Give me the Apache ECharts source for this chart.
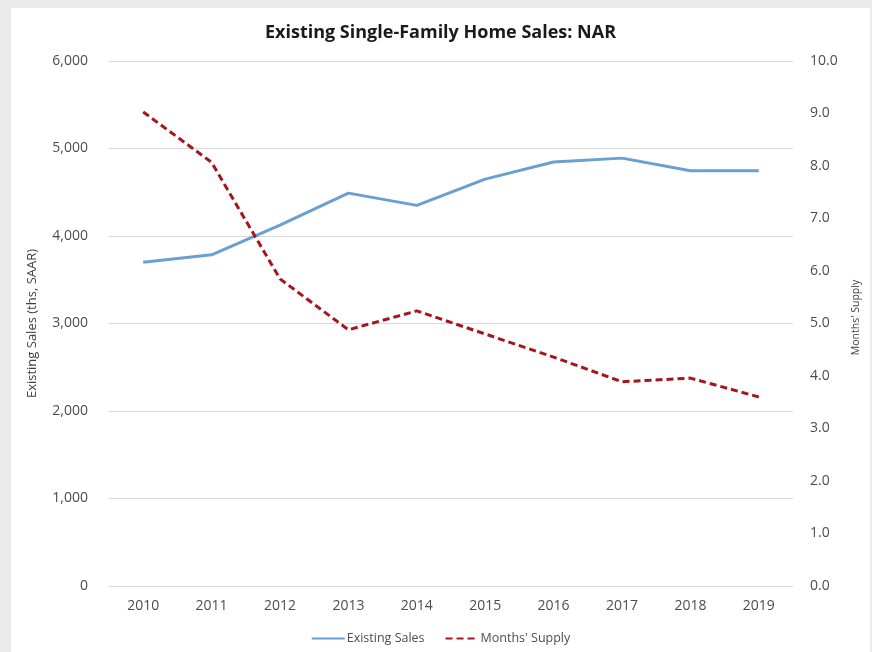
<!DOCTYPE html>
<html>
<head>
<meta charset="utf-8">
<script src="https://cdn.jsdelivr.net/npm/echarts@6/dist/echarts.min.js"></script>
<style>
    html, body { margin: 0; padding: 0; }
    body { width: 872px; height: 652px; background: #ebebeb; position: relative; overflow: hidden; }
    #chart { position: absolute; left: 11px; top: 8px; width: 859px; height: 644px; background: #fff; }
</style>
</head>
<body>
<div id="chart"></div>
<script>
// data
const years = ['2010', '2011', '2012', '2013', '2014', '2015', '2016', '2017', '2018', '2019'];
const existingSales = [3700, 3785, 4125, 4490, 4350, 4650, 4845, 4890, 4745, 4745];
const monthsSupply = [9.03, 8.07, 5.85, 4.88, 5.24, 4.8, 4.36, 3.89, 3.96, 3.6];

const labelColor = '#4d4d4d';
const fontFamily = '"Open Sans", "Liberation Sans", sans-serif';

const chart = echarts.init(document.getElementById('chart'));
chart.setOption({
    animation: false,
    title: {
        text: 'Existing Single-Family Home Sales: NAR',
        left: 'center',
        top: 11,
        textStyle: {
            fontFamily: fontFamily,
            fontSize: 18,
            fontWeight: 'bold',
            color: '#1a1a1a'
        }
    },
    grid: {
        left: 98,
        right: 77,
        top: 53,
        bottom: 66,
        outerBoundsMode: 'none'
    },
    legend: {
        bottom: 2,
        left: 'center',
        itemWidth: 33,
        itemHeight: 3,
        itemGap: 20,
        itemStyle: { opacity: 0 },
        textStyle: {
            fontFamily: fontFamily,
            fontSize: 12.5,
            color: labelColor,
            padding: [0, 0, 0, -3]
        },
        data: ['Existing Sales', "Months' Supply"]
    },
    xAxis: {
        type: 'category',
        data: years,
        boundaryGap: true,
        axisLine: { show: false },
        axisTick: { show: false },
        axisLabel: {
            margin: 13,
            color: labelColor,
            fontFamily: fontFamily,
            fontSize: 14
        }
    },
    yAxis: [
        {
            type: 'value',
            min: 0,
            max: 6000,
            interval: 1000,
            name: 'Existing Sales (ths, SAAR)',
            nameLocation: 'middle',
            nameGap: 70,
            nameTextStyle: {
                fontFamily: fontFamily,
                fontSize: 13,
                color: '#404040'
            },
            axisLine: { show: false },
            axisTick: { show: false },
            axisLabel: {
                margin: 21,
                color: labelColor,
                fontFamily: fontFamily,
                fontSize: 14,
                formatter: (v) => v.toLocaleString('en-US')
            },
            splitLine: {
                lineStyle: { color: '#d9d9d9', width: 1 }
            }
        },
        {
            type: 'value',
            min: 0,
            max: 10,
            interval: 1,
            position: 'right',
            name: "Months' Supply",
            nameLocation: 'middle',
            nameGap: 58,
            nameTextStyle: {
                fontFamily: fontFamily,
                fontSize: 10.5,
                color: '#404040',
                padding: [0, 0, 0, 12]
            },
            axisLine: { show: false },
            axisTick: { show: false },
            axisLabel: {
                margin: 17,
                color: labelColor,
                fontFamily: fontFamily,
                fontSize: 14,
                formatter: (v) => v.toFixed(1)
            },
            splitLine: { show: false }
        }
    ],
    series: [
        {
            name: 'Existing Sales',
            type: 'line',
            yAxisIndex: 0,
            symbol: 'none',
            data: existingSales,
            itemStyle: { color: '#6a9fd1' },
            lineStyle: { color: '#6a9fd1', width: 3 }
        },
        {
            name: "Months' Supply",
            type: 'line',
            yAxisIndex: 1,
            symbol: 'none',
            data: monthsSupply,
            itemStyle: { color: '#a3161c' },
            lineStyle: { color: '#a3161c', width: 3, type: [7, 4] }
        }
    ]
});
</script>
</body>
</html>
